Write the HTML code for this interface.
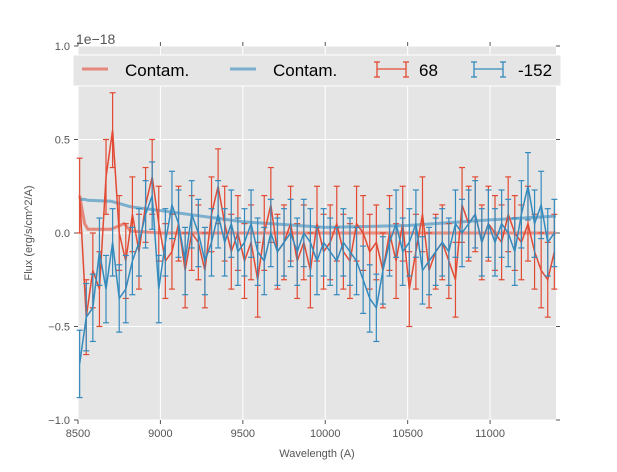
<!DOCTYPE html>
<html><head><meta charset="utf-8"><style>
body{margin:0;background:#fff;font-family:"Liberation Sans","DejaVu Sans",sans-serif}
svg text{font-family:"Liberation Sans","DejaVu Sans",sans-serif}
</style></head><body>
<svg id="chart" width="617" height="467" xmlns="http://www.w3.org/2000/svg">
<rect x="78" y="46" width="478" height="374" fill="#e5e5e5"/>
<g id="grid"></g>
<g id="ticks"></g>
<g id="series"></g>
<text x="76" y="44" font-size="14" fill="#555">1e−18</text>
<text transform="translate(32,233) rotate(-90)" text-anchor="middle" font-size="11" fill="#555">Flux (erg/s/cm^2/A)</text>
<text x="317" y="457" text-anchor="middle" font-size="11" fill="#555">Wavelength (A)</text>
<g>
<rect x="73" y="55" width="488" height="31" fill="#e5e5e5" stroke="#fff" stroke-width="1"/>
<line x1="82" y1="69" x2="108" y2="69" stroke="#E24A33" stroke-opacity="0.6" stroke-width="3"/>
<text x="125" y="76" font-size="17" fill="#000">Contam.</text>
<line x1="230" y1="69" x2="256" y2="69" stroke="#348ABD" stroke-opacity="0.6" stroke-width="3"/>
<text x="273" y="76" font-size="17" fill="#000">Contam.</text>
<g stroke="#E24A33" stroke-width="1.3">
<line x1="377" y1="69" x2="406" y2="69"/><line x1="377" y1="62" x2="377" y2="77"/><line x1="406" y1="62" x2="406" y2="77"/>
<line x1="374" y1="62" x2="380" y2="62"/><line x1="374" y1="77" x2="380" y2="77"/><line x1="403" y1="62" x2="409" y2="62"/><line x1="403" y1="77" x2="409" y2="77"/></g>
<text x="419" y="76" font-size="17" fill="#000">68</text>
<g stroke="#348ABD" stroke-width="1.3">
<line x1="474" y1="69" x2="503" y2="69"/><line x1="474" y1="62" x2="474" y2="77"/><line x1="503" y1="62" x2="503" y2="77"/>
<line x1="471" y1="62" x2="477" y2="62"/><line x1="471" y1="77" x2="477" y2="77"/><line x1="500" y1="62" x2="506" y2="62"/><line x1="500" y1="77" x2="506" y2="77"/></g>
<text x="518" y="76" font-size="17" fill="#000">-152</text>
</g>
</svg>
<script>
const waves=[8510,8550,8590,8630,8670,8710,8750,8790,8830,8870,
8910,8950,8990,9030,9070,9110,9150,9190,9230,9270,
9310,9350,9390,9430,9470,9510,9550,9590,9630,9670,
9710,9750,9790,9830,9870,9910,9950,9990,10030,10070,
10110,10150,10190,10230,10270,10310,10350,10390,10430,10470,
10510,10550,10590,10630,10670,10710,10750,10790,10830,10870,
10910,10950,10990,11030,11070,11110,11150,11190,11230,11270,
11310,11350,11390];
const red68=[0.2,-0.45,-0.2,-0.3,0.3,0.55,0.0,-0.15,0.1,-0.1,
0.15,0.3,0.05,-0.15,-0.1,0.05,-0.2,0.0,-0.05,-0.2,
0.1,0.25,0.05,-0.1,0.0,-0.15,-0.05,-0.25,0.0,0.15,
-0.1,-0.05,0.05,-0.15,-0.05,-0.2,0.05,-0.1,-0.05,0.05,
-0.1,-0.15,0.05,0.0,-0.1,-0.05,-0.2,0.0,-0.15,0.05,
-0.3,-0.1,0.1,-0.2,-0.1,-0.05,-0.15,-0.25,0.15,0.05,
0.1,-0.05,0.05,0.0,-0.05,0.1,0.0,-0.05,0.05,-0.1,
-0.2,-0.25,-0.1];
const blue152=[-0.7,-0.45,-0.4,-0.1,-0.3,-0.05,-0.35,-0.3,-0.15,-0.05,
0.1,0.2,-0.3,-0.05,0.15,0.05,-0.15,0.1,0.0,-0.15,
-0.05,0.1,-0.05,0.05,-0.1,-0.05,0.05,-0.1,-0.15,0.0,
-0.1,-0.05,0.0,-0.1,0.0,-0.05,-0.15,-0.05,-0.1,-0.15,
-0.05,-0.1,-0.15,-0.25,-0.35,-0.4,-0.2,-0.05,0.05,-0.1,
-0.05,0.05,-0.2,-0.15,-0.1,-0.05,-0.1,0.05,0.0,0.05,
0.1,-0.05,0.05,-0.05,0.05,0.0,-0.1,0.1,0.25,0.05,
0.15,-0.05,0.0];
const redErr=0.2, blueErr=0.18;
const contamWaves=[8510,8540,8560,8700,8780,8820,9000,9500,10000,10500,11000,11400];
const contamRed=[0.2,0.05,0.02,0.02,0.05,0.01,0.0,0.0,0.0,0.0,0.0,0.0];
const contamBlue=[0.18,0.18,0.175,0.17,0.15,0.14,0.12,0.06,0.03,0.04,0.07,0.09];
const xTicks=[8500,9000,9500,10000,10500,11000];
const yTicks=[-1.0,-0.5,0.0,0.5,1.0];
const X0=78,X1=556,Y0=420,Y1=46,xmin=8500,xmax=11400,ymin=-1,ymax=1;
const sx=v=>X0+(v-xmin)/(xmax-xmin)*(X1-X0);
const sy=v=>Y0-(v-ymin)/(ymax-ymin)*(Y0-Y1);
const NS='http://www.w3.org/2000/svg';
function mk(tag,attrs,parent){const e=document.createElementNS(NS,tag);for(const k in attrs)e.setAttribute(k,attrs[k]);parent.appendChild(e);return e;}
const grid=document.getElementById('grid'),ticks=document.getElementById('ticks'),series=document.getElementById('series');
xTicks.forEach(t=>{const x=sx(t);
 const g=mk('line',{x1:x,y1:Y1,x2:x,y2:Y0,stroke:'#fff','stroke-width':1},grid);
 
 
 mk('line',{x1:x,y1:Y0,x2:x,y2:Y0+4,stroke:'#555'},ticks);
 mk('line',{x1:x,y1:Y1,x2:x,y2:Y1-4,stroke:'#555'},ticks);
 const tx=mk('text',{x:x,y:Y0+17,'text-anchor':'middle','font-size':11,fill:'#555'},ticks);
 tx.textContent=t;
 
 
});
yTicks.forEach(t=>{const y=sy(t);
 const g=mk('line',{x1:X0,y1:y,x2:X1,y2:y,stroke:'#fff','stroke-width':1},grid);
 
 
 mk('line',{x1:X0-4,y1:y,x2:X0,y2:y,stroke:'#555'},ticks);
 mk('line',{x1:X1,y1:y,x2:X1+4,y2:y,stroke:'#555'},ticks);
 const tx=mk('text',{x:X0-8,y:y+4,'text-anchor':'end','font-size':11,fill:'#555'},ticks);
 tx.textContent=t.toFixed(1).replace('-','−');
 
 
});
function contam(vals,color,name){
 const d=contamWaves.map((w,i)=>(i?'L':'M')+sx(w)+','+sy(vals[i])).join(' ');
 const p=mk('path',{d:d,fill:'none',stroke:color,'stroke-opacity':0.6,'stroke-width':3},series);
 
 
}
function errSeries(vals,err,color,name){
 const g=mk('g',{stroke:color,'stroke-width':1.2,fill:'none'},series);
 
 
 const n=Math.min(vals.length,waves.length);
 for(let i=0;i<n;i++){const x=sx(waves[i]),a=sy(vals[i]+err),b=sy(vals[i]-err);
  mk('line',{x1:x,y1:a,x2:x,y2:b},g);
  mk('line',{x1:x-3,y1:a,x2:x+3,y2:a},g);
  mk('line',{x1:x-3,y1:b,x2:x+3,y2:b},g);}
 let d='';for(let i=0;i<n;i++)d+=(i?'L':'M')+sx(waves[i])+','+sy(vals[i])+' ';
 mk('path',{d:d,'stroke-width':1.5},g);
}
contam(contamRed,'#E24A33','contam-red-line');
contam(contamBlue,'#348ABD','contam-blue-line');
errSeries(red68,redErr,'#E24A33','series-68');
errSeries(blue152,blueErr,'#348ABD','series-minus152');
</script>
</body></html>
